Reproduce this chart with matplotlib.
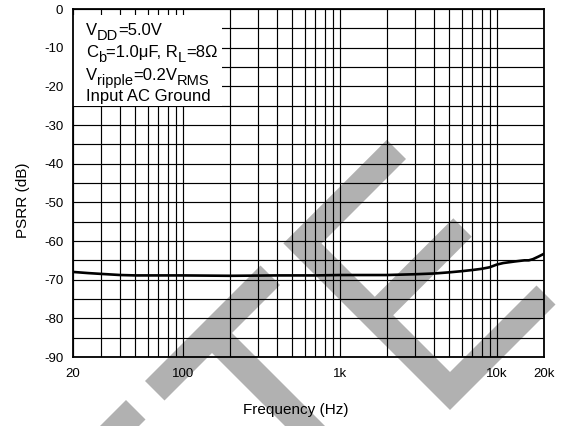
import numpy as np
import matplotlib
matplotlib.use("Agg")
import matplotlib.pyplot as plt
from matplotlib.patches import Polygon, Rectangle

plt.rcParams['font.family'] = ['Liberation Sans', 'DejaVu Sans']

# ---- data ----
freq_hz = [20, 25, 30, 40, 50, 70, 100, 200, 400, 700, 1000, 2000, 3000, 4000,
           5000, 6000, 7000, 8000, 9000, 10000, 11000, 13000, 15000, 16000,
           17000, 18500, 20000]
psrr_db = [-68.0, -68.3, -68.5, -68.8, -68.9, -68.9, -68.9, -69.0, -68.9, -68.9,
           -68.8, -68.8, -68.6, -68.4, -68.1, -67.8, -67.5, -67.2, -66.8, -66.1,
           -65.7, -65.3, -65.0, -65.0, -64.7, -64.0, -63.3]
x_tick_vals = [20, 100, 1000, 10000, 20000]
x_tick_labels = ['20', '100', '1k', '10k', '20k']
y_tick_vals = [0, -10, -20, -30, -40, -50, -60, -70, -80, -90]
y_minor_vals = [-5, -15, -25, -35, -45, -55, -65, -75, -85]
x_minor_vals = [30, 40, 50, 60, 70, 80, 90, 200, 300, 400, 500, 600, 700, 800,
                900, 2000, 3000, 4000, 5000, 6000, 7000, 8000, 9000]

W, H = 569, 426
fig = plt.figure(figsize=(W / 100, H / 100), dpi=100)
fig.patch.set_facecolor('white')


def fx(px):
    return px / W


def fy(py):
    return 1 - py / H


# ---- watermark (decoration, figure pixel space) ----
wm_color = '#b1b1b1'


def poly_from_lines(pts):
    return [(fx(x), fy(y)) for x, y in pts]


def inter(s, d):
    # x+y=s, x-y=d
    return ((s + d) / 2, (s - d) / 2)


shapes = []
shapes.append([inter(526, -274), inter(565, -274), (65, 500), (26, 500)])
shapes.append([inter(526, -236), inter(526, -5), inter(565, -5), inter(565, -101),
               (399, 500), (359, 500), inter(565, -141), inter(565, -236)])
shapes.append([inter(526.7, 247), inter(565, 247), inter(565, 78), inter(671.6, 78),
               inter(671.6, 235), inter(708.4, 235), inter(708.4, 78), inter(822, 78),
               inter(822, 251), inter(860, 251), inter(860, 40), inter(526.7, 40)])
for s in shapes:
    fig.patches.append(Polygon(poly_from_lines(s), closed=True, facecolor=wm_color,
                               edgecolor='none', transform=fig.transFigure, zorder=-5))

# ---- axes ----
ax = fig.add_axes([fx(73), fy(357), (544 - 73) / W, (357 - 9) / H])
ax.patch.set_alpha(0)
ax.set_xscale('log')
ax.set_xlim(20, 20000)
ax.set_ylim(-90, 0)

ax.set_xticks(x_tick_vals)
ax.set_xticklabels(x_tick_labels)
ax.set_xticks(x_minor_vals, minor=True)
ax.xaxis.set_minor_formatter(matplotlib.ticker.NullFormatter())
ax.set_yticks(y_tick_vals)
ax.set_yticklabels([str(v) for v in y_tick_vals])
ax.set_yticks(y_minor_vals, minor=True)
ax.tick_params(which='both', length=0, labelsize=9.5, colors='black')
ax.tick_params(axis='x', pad=8)
ax.tick_params(axis='y', pad=7)

ax.grid(True, which='both', color='black', linewidth=0.85, zorder=1)
ax.set_axisbelow(True)
for sp in ax.spines.values():
    sp.set_linewidth(1.3)
    sp.set_color('black')
    sp.set_zorder(4)

ax.plot(freq_hz, psrr_db, color='black', linewidth=1.9, zorder=3,
        solid_joinstyle='round')

# white box behind annotation text
ax.add_patch(Rectangle((0, 0.721), 0.316, 0.983 - 0.721, transform=ax.transAxes,
                       facecolor='white', edgecolor='none', zorder=2))

# ---- labels ----
fig.text(fx(296), fy(410), 'Frequency (Hz)', ha='center', va='center', fontsize=11)
fig.text(fx(23), fy(200), 'PSRR (dB)', ha='center', va='center', fontsize=11,
         rotation=90)

# ---- annotation with subscripts ----
renderer = fig.canvas.get_renderer()
box_fs = 12
sub_fs = 10.5
sub_drop = 4.5  # px


def rich(x_px, base_px, segs):
    x = x_px
    for txt, sub in segs:
        if sub:
            t = fig.text(fx(x), fy(base_px + sub_drop), txt, fontsize=sub_fs,
                         va='baseline', ha='left', zorder=6)
        else:
            t = fig.text(fx(x), fy(base_px), txt, fontsize=box_fs,
                         va='baseline', ha='left', zorder=6)
        bb = t.get_window_extent(renderer=renderer)
        x += bb.width


rich(86, 35, [('V', False), ('DD', True), ('=5.0V', False)])
rich(86, 57, [('C', False), ('b', True), ('=1.0\u03bcF, R', False), ('L', True),
              ('=8\u03a9', False)])
rich(86, 80.5, [('V', False), ('ripple', True), ('=0.2V', False), ('RMS', True)])
rich(86, 101, [('Input AC Ground', False)])

fig.savefig('out.png', dpi=100, facecolor='white')
